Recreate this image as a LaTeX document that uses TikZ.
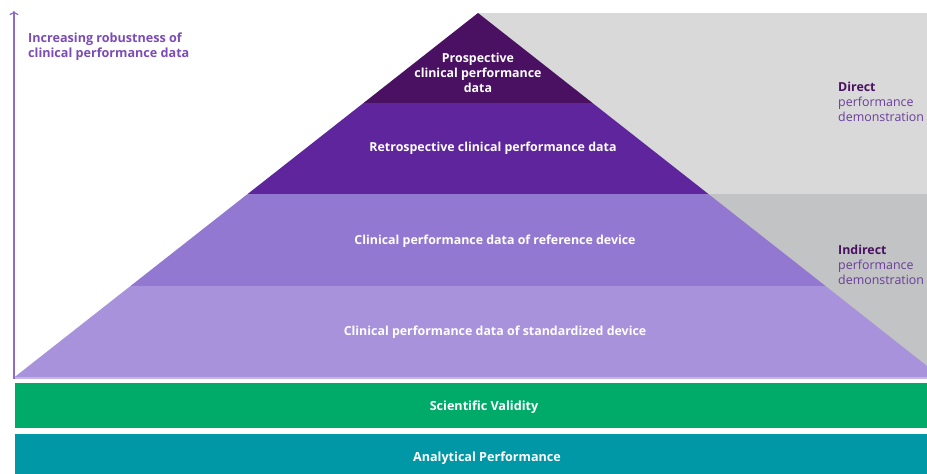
\documentclass[tikz,border=0pt]{standalone}
\usepackage{fontspec}
\setmainfont{Open Sans}
\usetikzlibrary{arrows.meta}
\definecolor{greylight}{HTML}{D9D9D9}
\definecolor{greydark}{HTML}{C2C3C5}
\definecolor{layerone}{HTML}{4A1062}
\definecolor{layertwo}{HTML}{5E259C}
\definecolor{layerthree}{HTML}{9378D1}
\definecolor{layerfour}{HTML}{A892DC}
\definecolor{axispurple}{HTML}{8E6CC8}
\definecolor{headpurple}{HTML}{7B4BB7}
\definecolor{sidepurple}{HTML}{6A3D9A}
\definecolor{validgreen}{HTML}{00AB6A}
\definecolor{analyteal}{HTML}{0097A7}
\tikzset{
  layerlabel/.style={text=white,font=\bfseries\fontsize{12.4}{15}\selectfont,align=center,inner sep=0pt},
  sidelabel/.style={anchor=north west,align=left,text=sidepurple,font=\fontsize{12.4}{15}\selectfont,inner sep=0pt},
  barlabel/.style={text=white,font=\bfseries\fontsize{12.6}{14}\selectfont,inner sep=0pt}
}
\begin{document}
\begin{tikzpicture}[x=1pt,y=-1pt]
  \useasboundingbox (0,0) rectangle (927,474);
  % grey backdrop
  \fill[greylight] (478,13) rectangle (927,194);
  \fill[greydark] (708,194) rectangle (927,377);
  % pyramid, top to bottom
  \coordinate (apex) at (478,13);
  \fill[layerone] (apex) -- (592.5,103) -- (363.5,103) -- cycle;
  \fill[layertwo] (363.5,103) -- (592.5,103) -- (708.4,194) -- (247.6,194) -- cycle;
  \fill[layerthree] (247.6,194) -- (708.4,194) -- (825.5,286) -- (130.5,286) -- cycle;
  \fill[layerfour] (130.5,286) -- (825.5,286) -- (941,377) -- (14.7,377) -- cycle;
  \draw[axispurple!50,line width=1.5pt] (14,378) -- (927,378);
  \node[layerlabel] (prosp) at (478,73) {Prospective\\clinical performance\\data};
  \node[layerlabel] (retro) at (493,148) {Retrospective clinical performance data};
  \node[layerlabel] (refdev) at (495,241) {Clinical performance data of reference device};
  \node[layerlabel] (stddev) at (495,332) {Clinical performance data of standardized device};
  % axis
  \coordinate (axisbot) at (14,379);
  \coordinate (axistop) at (14,11);
  \draw[axispurple,line width=1.2pt,-{To[length=4pt,width=9pt]}] (axisbot) -- (axistop);
  \node[anchor=north west,align=left,inner sep=0pt,text=headpurple,
        font=\bfseries\fontsize{12.6}{14.5}\selectfont] (robust) at (28,33)
        {Increasing robustness of\\clinical performance data};
  % side labels
  \node[sidelabel] (direct) at (838,82)
        {\textcolor{layerone}{\bfseries Direct}\\performance\\demonstration};
  \node[sidelabel] (indirect) at (838,245)
        {\textcolor{layerone}{\bfseries Indirect}\\performance\\demonstration};
  % base bars
  \fill[validgreen] (15,383) rectangle (927,428);
  \fill[analyteal] (15,434) rectangle (927,474);
  \node[barlabel] (valid) at (484,407) {Scientific Validity};
  \node[barlabel] (analyt) at (487,458) {Analytical Performance};
\end{tikzpicture}
\end{document}
